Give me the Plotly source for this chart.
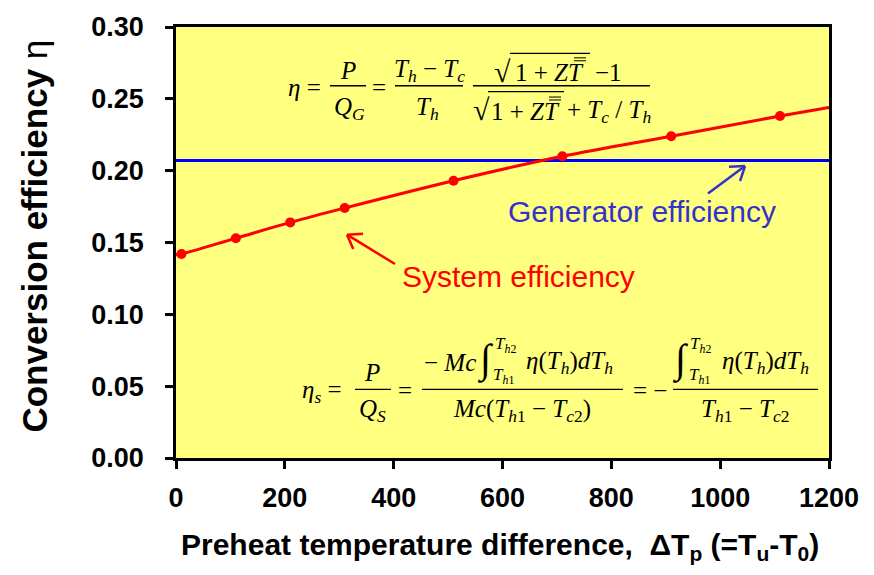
import plotly.graph_objects as go
import math

# ---------------- data ----------------
sys_x = [10, 110, 210, 310, 510, 710, 910, 1110]
sys_y = [0.142, 0.153, 0.164, 0.174, 0.193, 0.210, 0.224, 0.238]
curve_x = [0, 10, 110, 210, 310, 510, 710, 910, 1110, 1200]
curve_y = [0.1415, 0.142, 0.153, 0.164, 0.174, 0.193, 0.210, 0.224, 0.238, 0.244]
gen_x = [0, 1200]
gen_y = [0.207, 0.207]
x_ticks = [0, 200, 400, 600, 800, 1000, 1200]
y_ticks = [0.00, 0.05, 0.10, 0.15, 0.20, 0.25, 0.30]

W, H = 874, 575
L, R, T, B = 176, 45, 18, 117
PW, PH = W - L - R, H - T - B


def px(xp):
    return (xp - L) / PW


def py(yp):
    return (T + PH - yp) / PH


fig = go.Figure()
fig.add_trace(go.Scatter(x=gen_x, y=gen_y, mode="lines",
                         line=dict(color="#0000FF", width=3), showlegend=False))
fig.add_trace(go.Scatter(x=curve_x, y=curve_y, mode="lines",
                         line=dict(color="#FF0000", width=3, shape="spline"),
                         showlegend=False))
fig.add_trace(go.Scatter(x=sys_x, y=sys_y, mode="markers",
                         marker=dict(color="#FF0000", size=10), showlegend=False))

ann = []
shapes = []
SERIF = "Liberation Serif, Times New Roman, serif"
EQ = 25


def t(xp, yp, text, size=EQ, color="black", family=SERIF, xanchor="center"):
    ann.append(dict(x=px(xp), y=py(yp), xref="paper", yref="paper", text=text,
                    showarrow=False, xanchor=xanchor, yanchor="middle",
                    font=dict(family=family, size=size, color=color)))


def hline(x0, x1, yp, w=1.3, color="black"):
    shapes.append(dict(type="line", xref="paper", yref="paper",
                       x0=px(x0), x1=px(x1), y0=py(yp), y1=py(yp),
                       line=dict(color=color, width=w)))


def seg(x0, y0, x1, y1, color, w):
    shapes.append(dict(type="line", xref="paper", yref="paper",
                       x0=px(x0), x1=px(x1), y0=py(y0), y1=py(y1),
                       line=dict(color=color, width=w)))


def arrow(tipx, tipy, tailx, taily, color, w=2.5, arm=16, ang=35):
    seg(tailx, taily, tipx, tipy, color, w)
    dx, dy = tailx - tipx, taily - tipy
    n = math.hypot(dx, dy)
    ux, uy = dx / n, dy / n
    for s in (1, -1):
        a = math.radians(ang * s)
        rx = ux * math.cos(a) - uy * math.sin(a)
        ry = ux * math.sin(a) + uy * math.cos(a)
        seg(tipx, tipy, tipx + rx * arm, tipy + ry * arm, color, w)


# ---- equation 1 ----
t(304, 80, "<i>η</i> =")
t(348, 62, "<i>P</i>")
hline(330, 366, 78)
t(349, 101, "<i>Q<sub>G</sub></i>")
t(379, 80, "=")
t(429, 62, "<i>T<sub>h</sub></i> − <i>T<sub>c</sub></i>")
hline(395, 463, 78)
t(427, 101, "<i>T<sub>h</sub></i>")
t(503, 63, "√", size=30)
t(549, 64, "1 + <i>Z</i><i>T</i>")
hline(510, 590, 45, w=1.2)
hline(574, 586, 49.5, w=1.0)
hline(574, 586, 52.5, w=1.0)
t(608, 64, "−1")
hline(473, 650, 78)
t(481, 102, "√", size=30)
t(525, 104, "1 + <i>Z</i><i>T</i>")
hline(488, 564, 84, w=1.2)
hline(549, 561, 89.5, w=1.0)
hline(549, 561, 92.5, w=1.0)
t(609, 104, "+ <i>T<sub>c</sub></i> / <i>T<sub>h</sub></i>")

# ---- equation 2 ----
t(322, 390, "<i>η<sub>s</sub></i> =")
t(372, 371, "<i>P</i>")
hline(355, 391, 388)
t(372, 410, "<i>Q<sub>S</sub></i>")
t(405, 389, "=")
t(450, 361, "− <i>Mc</i>")
t(485, 357, "∫", size=40)
t(505, 343, "<i>T<sub>h</sub></i><sub>2</sub>", size=17)
t(504, 374, "<i>T<sub>h</sub></i><sub>1</sub>", size=17)
t(569, 361, "<i>η</i>(<i>T<sub>h</sub></i>)<i>dT<sub>h</sub></i>")
hline(422, 623, 388)
t(522, 410, "<i>Mc</i>(<i>T<sub>h</sub></i><sub>1</sub> − <i>T<sub>c</sub></i><sub>2</sub>)")
t(650, 389, "= −")
t(680, 357, "∫", size=40)
t(700, 343, "<i>T<sub>h</sub></i><sub>2</sub>", size=17)
t(699, 374, "<i>T<sub>h</sub></i><sub>1</sub>", size=17)
t(765, 361, "<i>η</i>(<i>T<sub>h</sub></i>)<i>dT<sub>h</sub></i>")
hline(673, 818, 388)
t(745, 410, "<i>T<sub>h</sub></i><sub>1</sub> − <i>T<sub>c</sub></i><sub>2</sub>")

SANS = "Liberation Sans, Arial, sans-serif"
# ---- labels & arrows ----
t(518, 273, "System efficiency", size=30, color="#FF0000", family=SANS)
arrow(347, 230, 395, 260, "#FF0000")
t(642, 206, "Generator efficiency", size=30, color="#3333CC", family=SANS)
arrow(745, 160, 708, 188, "#3333CC")

# ---- axis titles ----
ann.append(dict(x=px(35), y=py(232), xref="paper", yref="paper",
                text="<b>Conversion efficiency </b>η", textangle=-90,
                showarrow=False, xanchor="center", yanchor="middle",
                font=dict(family=SANS, size=35, color="black")))
ann.append(dict(x=px(500), y=py(548), xref="paper", yref="paper",
                text="<b>Preheat temperature difference,  ΔT<sub>p</sub> (=T<sub>u</sub>-T<sub>0</sub>)</b>",
                showarrow=False, xanchor="center", yanchor="middle",
                font=dict(family=SANS, size=30, color="black")))

fig.update_layout(
    width=W, height=H,
    margin=dict(l=L, r=R, t=T, b=B, pad=0),
    paper_bgcolor="white", plot_bgcolor="#FFFF80",
    annotations=ann, shapes=shapes,
    showlegend=False,
)
axis_common = dict(showgrid=False, zeroline=False, showline=True, linecolor="black",
                   linewidth=2.5, mirror=True, ticks="outside", ticklen=8,
                   tickwidth=2.5, tickcolor="black",
                   tickfont=dict(family=SANS, size=27, color="black", weight="bold"))
fig.update_xaxes(range=[0, 1200], tickvals=x_ticks, ticktext=[str(v) for v in x_ticks],
                 ticklabelstandoff=6, **axis_common)
fig.update_yaxes(range=[0, 0.30], tickvals=y_ticks, ticktext=[f"{v:.2f}" for v in y_ticks],
                 ticklabelstandoff=16, **axis_common)

fig.write_html("out.html")
